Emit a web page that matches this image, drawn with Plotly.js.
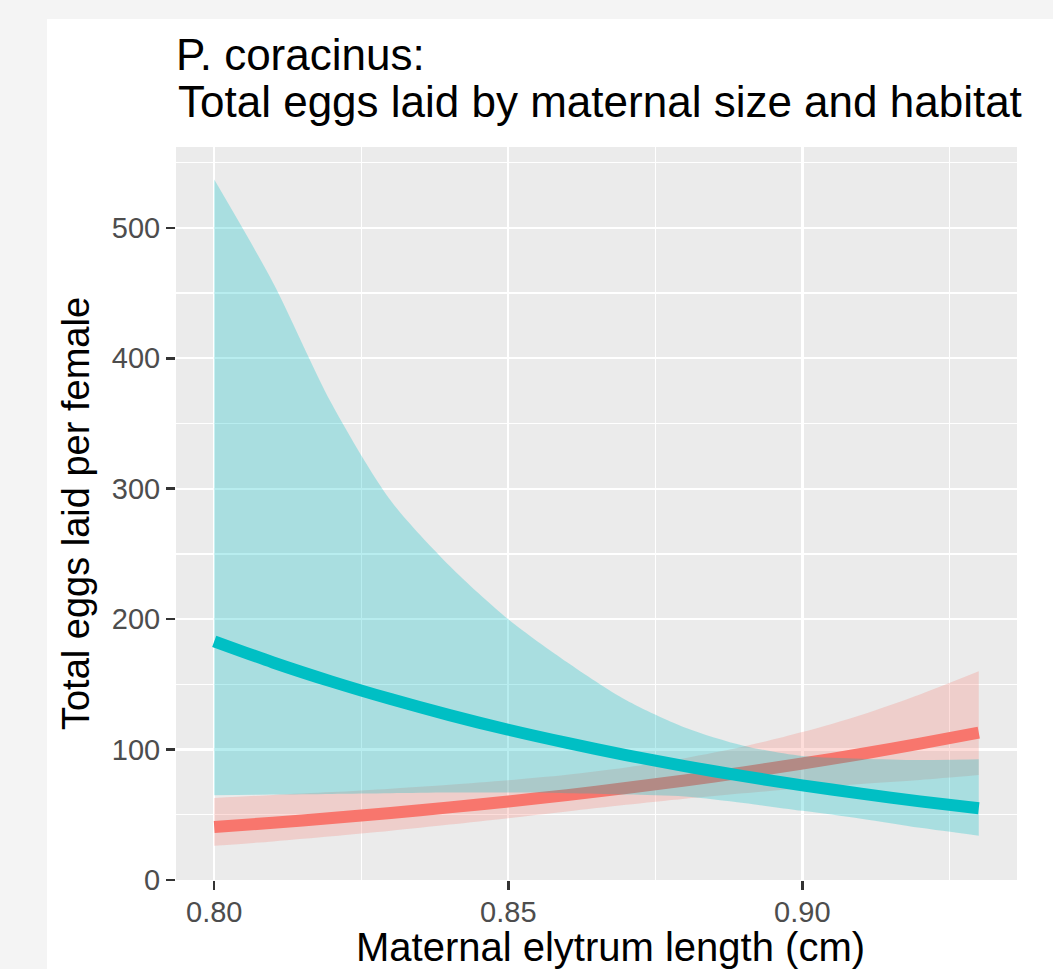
<!DOCTYPE html>
<html>
<head>
<meta charset="utf-8">
<script src="https://cdn.plot.ly/plotly-3.0.1.min.js"></script>
<style>
  html, body { margin: 0; padding: 0; background: #f4f4f4; }
  #chart { position: absolute; left: 47px; top: 19px; width: 1006px; height: 950px; background: #ffffff; }
</style>
</head>
<body>
<div id="chart"></div>
<script>
// Maternal elytrum length (cm)
const elytrumLength = [0.80, 0.81, 0.82, 0.83, 0.84, 0.85, 0.86, 0.87, 0.88, 0.89, 0.90, 0.91, 0.92, 0.93];

// Habitat A (red): fitted total eggs and confidence band
const redFit   = [40.6, 43.9, 47.5, 51.4, 55.7, 60.2, 65.1, 70.5, 76.3, 82.5, 89.3, 96.6, 104.5, 113.0];
const redUpper = [62.9, 65.2, 67.4, 70.0, 73.0, 76.5, 80.7, 86.3, 93.4, 102.3, 113.4, 126.6, 142.3, 160.0];
const redLower = [26.2, 29.6, 33.5, 37.7, 42.5, 47.4, 52.5, 57.6, 62.3, 66.5, 70.3, 73.7, 76.7, 80.5];

// Habitat B (teal): fitted total eggs and confidence band
const tealFit   = [183.0, 166.8, 152.1, 138.7, 126.4, 115.2, 105.1, 95.8, 87.3, 79.6, 72.6, 66.2, 60.3, 55.0];
const tealUpper = [537, 458, 365, 291, 241, 200, 167, 138, 117, 103, 95, 93, 92, 92.5];
const tealLower = [65, 65.5, 66, 66.5, 67, 67, 66.5, 65.5, 64, 59, 53, 47, 40, 34];

// Axis ticks and titles
const xTickVals = [0.80, 0.85, 0.90];
const xTickText = ['0.80', '0.85', '0.90'];
const yTickVals = [0, 100, 200, 300, 400, 500];
const yTickText = ['0', '100', '200', '300', '400', '500'];
const xTitle = 'Maternal elytrum length (cm)';
const yTitle = 'Total eggs laid per female';

const RED = '#F8766D';
const TEAL = '#00BFC4';

function bandTraces(x, hi, lo, color, name) {
  return [
    { type: 'scatter', mode: 'lines', name: name + ' lower', x: x, y: lo,
      line: { width: 0, shape: 'spline', smoothing: 0.8 }, hoverinfo: 'skip', showlegend: false },
    { type: 'scatter', mode: 'lines', name: name + ' upper', x: x, y: hi,
      fill: 'tonexty', fillcolor: color,
      line: { width: 0, shape: 'spline', smoothing: 0.8 }, hoverinfo: 'skip', showlegend: false }
  ];
}
function fitLine(x, y, color, name) {
  return {
    type: 'scatter', mode: 'lines', name: name,
    x: x, y: y,
    line: { color: color, width: 12, shape: 'spline', smoothing: 0.8 },
    showlegend: false
  };
}

const data = [].concat(
  bandTraces(elytrumLength, redUpper, redLower, 'rgba(248,118,109,0.25)', 'Habitat A band'),
  [fitLine(elytrumLength, redFit, RED, 'Habitat A')],
  bandTraces(elytrumLength, tealUpper, tealLower, 'rgba(0,191,196,0.28)', 'Habitat B band'),
  [fitLine(elytrumLength, tealFit, TEAL, 'Habitat B')]
);

const FONT = 'Liberation Sans, Arial, Helvetica, sans-serif';

const layout = {
  width: 1006, height: 950,
  paper_bgcolor: '#ffffff',
  plot_bgcolor: '#ebebeb',
  margin: { l: 129, r: 36, t: 128, b: 89 },
  showlegend: false,
  title: {
    text: 'P. coracinus:',
    font: { family: FONT, size: 44, color: '#000000' },
    x: 0, xref: 'paper', xanchor: 'left',
    y: 1 - 51 / 950, yref: 'container', yanchor: 'bottom'
  },
  annotations: [
    {
      text: 'Total eggs laid by maternal size and habitat',
      font: { family: FONT, size: 44, color: '#000000' },
      showarrow: false,
      xref: 'paper', x: 0, xanchor: 'left',
      yref: 'paper', y: 1 + 19 / 733, yanchor: 'bottom'
    },
    {
      text: xTitle,
      font: { family: FONT, size: 40, color: '#000000' },
      showarrow: false,
      xref: 'paper', x: 0.517, xanchor: 'center',
      yref: 'paper', y: -43 / 733, yanchor: 'top'
    }
  ],
  xaxis: {
    range: [0.7935, 0.9365],
    tickvals: xTickVals, ticktext: xTickText,
    ticks: 'outside', ticklen: 9, tickwidth: 2.5, tickcolor: '#333333',
    ticklabelstandoff: -3,
    tickfont: { family: FONT, size: 29, color: '#4d4d4d' },
    showgrid: true, gridcolor: '#ffffff', gridwidth: 2.4,
    minor: { tickvals: [0.825, 0.875, 0.925], showgrid: true, gridcolor: '#ffffff', gridwidth: 1.2, ticks: '' },
    zeroline: false, showline: false
  },
  yaxis: {
    range: [0, 562],
    tickvals: yTickVals, ticktext: yTickText,
    ticks: 'outside', ticklen: 9, tickwidth: 2.5, tickcolor: '#333333',
    tickfont: { family: FONT, size: 29, color: '#4d4d4d' },
    showgrid: true, gridcolor: '#ffffff', gridwidth: 2.4,
    minor: { tickvals: [50, 150, 250, 350, 450, 550], showgrid: true, gridcolor: '#ffffff', gridwidth: 1.2, ticks: '' },
    zeroline: false, showline: false,
    title: { text: yTitle, font: { family: FONT, size: 38, color: '#000000' }, standoff: 10 }
  }
};

Plotly.newPlot('chart', data, layout, { displayModeBar: false, staticPlot: true });
</script>
</body>
</html>
